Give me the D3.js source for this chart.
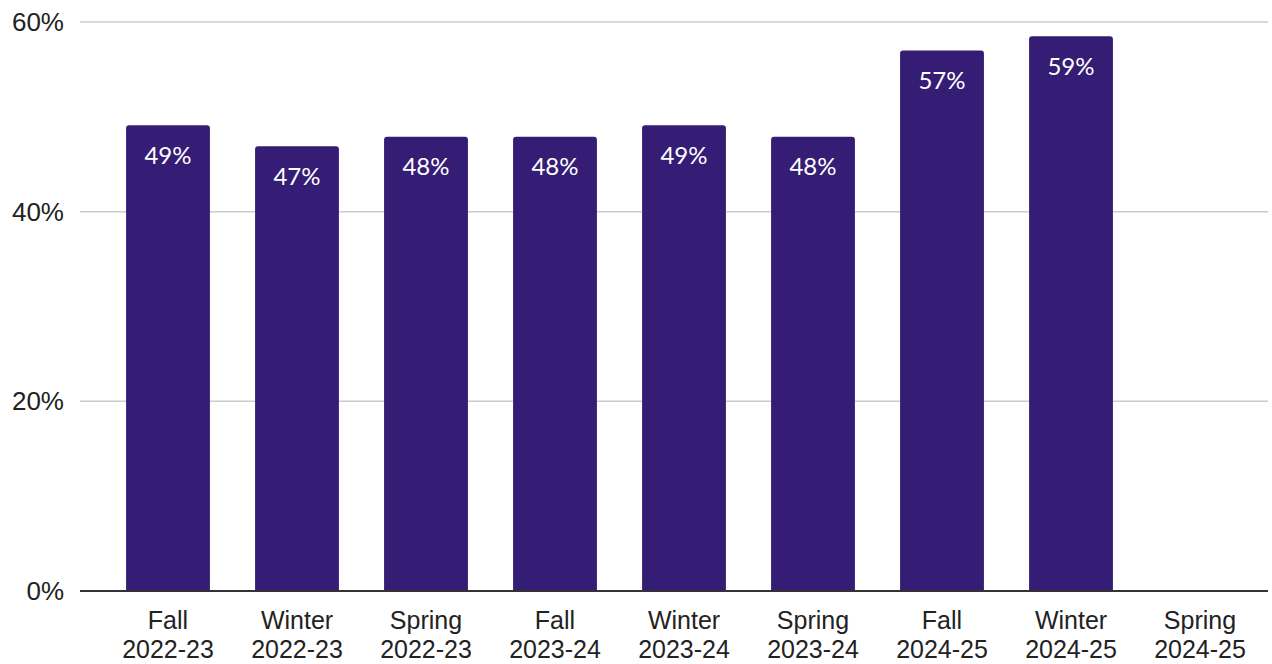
<!DOCTYPE html>
<html lang="en">
<head>
<meta charset="UTF-8"/>
<title>Share by term</title>
<script src="https://d3js.org/d3.v7.min.js"></script>
<style>
  body { margin: 0; background: #fff; }
</style>
</head>
<body>
<script>
var w = 1272;
var h = 664;

// term names, split in two lines
var terms = ["Fall", "Winter", "Spring", "Fall", "Winter", "Spring", "Fall", "Winter", "Spring"];
var years = ["2022-23", "2022-23", "2022-23", "2023-24", "2023-24", "2023-24", "2024-25", "2024-25", "2024-25"];
// percent values (last term has no bar)
var values = [49.1, 46.9, 47.9, 47.9, 49.1, 47.9, 57.0, 58.5, null];
var valueLabels = ["49%", "47%", "48%", "48%", "49%", "48%", "57%", "59%", ""];
var yTicks = [0, 20, 40, 60];

var categories = terms.map(function (t, i) { return i; });

var x = d3.scaleBand()
    .domain(categories)
    .range([103.5, 1264.5])
    .paddingInner(0.35)
    .paddingOuter(0.175);

var y = d3.scaleLinear()
    .domain([0, 60])
    .range([591, 22]);

var svg = d3.select("body")
    .append("svg")
    .attr("width", w)
    .attr("height", h);

// gridlines
svg.selectAll("line.grid")
    .data(yTicks.filter(function (d) { return d > 0; }))
    .enter()
    .append("line")
    .attr("class", "grid")
    .attr("x1", 80)
    .attr("x2", 1268)
    .attr("y1", function (d) { return y(d); })
    .attr("y2", function (d) { return y(d); })
    .attr("stroke", "#cccccc")
    .attr("stroke-width", 1.5);

// y labels
svg.selectAll("text.ylab")
    .data(yTicks)
    .enter()
    .append("text")
    .attr("class", "ylab")
    .attr("x", 64)
    .attr("y", function (d) { return y(d); })
    .attr("dy", "0.35em")
    .attr("text-anchor", "end")
    .attr("font-family", "'Liberation Sans', Arial, sans-serif")
    .attr("font-size", "26px")
    .attr("fill", "#222")
    .text(function (d) { return d + "%"; });

// bars with slightly rounded tops
var barData = categories.filter(function (i) { return values[i] != null; });

svg.selectAll("path.bar")
    .data(barData)
    .enter()
    .append("path")
    .attr("class", "bar")
    .attr("fill", "#351c75")
    .attr("d", function (i) {
        var x0 = x(i), bw = x.bandwidth();
        var top = y(values[i]), bottom = y(0), r = 3;
        return "M" + x0 + "," + bottom +
            "V" + (top + r) +
            "Q" + x0 + "," + top + " " + (x0 + r) + "," + top +
            "H" + (x0 + bw - r) +
            "Q" + (x0 + bw) + "," + top + " " + (x0 + bw) + "," + (top + r) +
            "V" + bottom + "Z";
    });

// value labels inside bars
svg.selectAll("text.val")
    .data(barData)
    .enter()
    .append("text")
    .attr("class", "val")
    .attr("x", function (i) { return x(i) + x.bandwidth() / 2; })
    .attr("y", function (i) { return y(values[i]) + 30; })
    .attr("dy", "0.35em")
    .attr("text-anchor", "middle")
    .attr("font-family", "Lato, sans-serif")
    .attr("font-size", "24px")
    .attr("fill", "#ffffff")
    .text(function (i) { return valueLabels[i]; });

// baseline
svg.append("line")
    .attr("x1", 80)
    .attr("x2", 1268)
    .attr("y1", y(0))
    .attr("y2", y(0))
    .attr("stroke", "#333333")
    .attr("stroke-width", 2);

// x labels, two lines
var xl = svg.selectAll("text.xlab")
    .data(categories)
    .enter()
    .append("text")
    .attr("class", "xlab")
    .attr("text-anchor", "middle")
    .attr("font-family", "'Liberation Sans', Arial, sans-serif")
    .attr("font-size", "25px")
    .attr("fill", "#222");

xl.append("tspan")
    .attr("x", function (i) { return x(i) + x.bandwidth() / 2; })
    .attr("y", 629)
    .text(function (i) { return terms[i]; });

xl.append("tspan")
    .attr("x", function (i) { return x(i) + x.bandwidth() / 2; })
    .attr("y", 658)
    .text(function (i) { return years[i]; });
</script>
</body>
</html>
